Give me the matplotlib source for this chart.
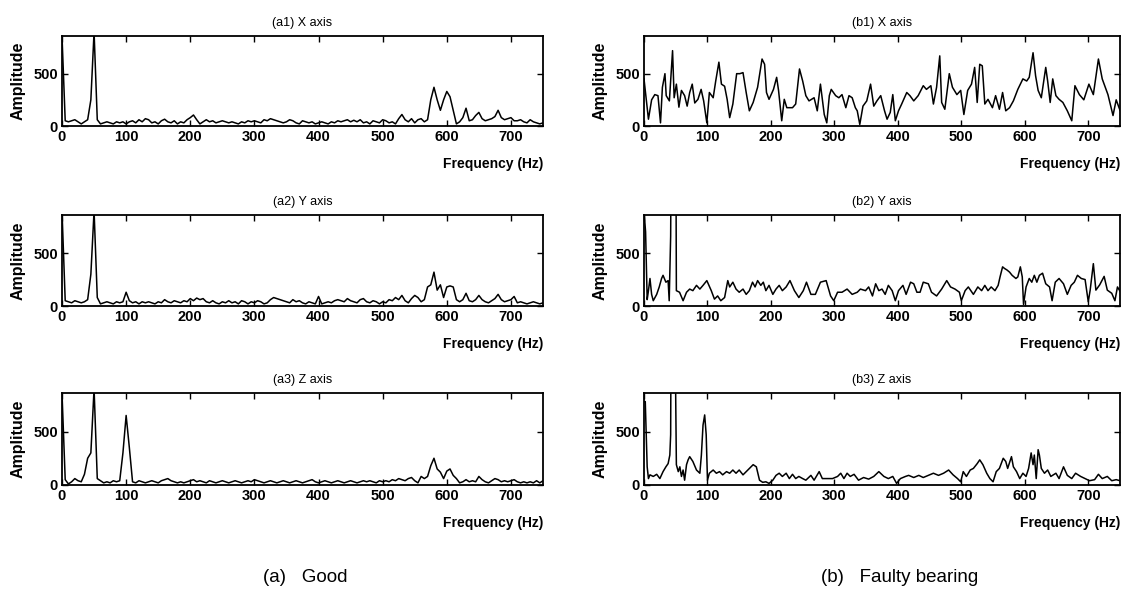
import matplotlib
matplotlib.use("Agg")
import matplotlib.pyplot as plt
from matplotlib import font_manager

names = {f.name for f in font_manager.fontManager.ttflist}
FAM = "Liberation Sans Narrow" if "Liberation Sans Narrow" in names else "Liberation Sans"
plt.rcParams['font.family'] = [FAM, 'DejaVu Sans']

# ---------------- data ----------------
grid5 = list(range(0, 755, 5))

a1_amp = [860, 50, 40, 50, 60, 40, 20, 40, 60, 250,
          900, 60, 20, 30, 40, 30, 20, 40, 30, 40,
          20, 40, 50, 30, 60, 40, 70, 60, 30, 40,
          20, 50, 65, 40, 30, 50, 20, 40, 30, 60,
          80, 105, 60, 20, 40, 60, 40, 50, 30, 40,
          50, 40, 30, 40, 30, 20, 40, 30, 50, 40,
          50, 40, 30, 60, 50, 70, 60, 50, 40, 30,
          40, 60, 50, 30, 20, 50, 40, 30, 40, 20,
          30, 40, 30, 20, 40, 30, 50, 40, 50, 60,
          40, 55, 40, 60, 30, 40, 20, 50, 40, 30,
          60, 50, 30, 40, 20, 70, 110, 60, 40, 70,
          30, 60, 70, 40, 60, 250, 370, 250, 150, 250,
          330, 280, 150, 20, 40, 80, 170, 50, 60, 100,
          130, 70, 50, 60, 70, 90, 150, 80, 60, 70,
          80, 50, 50, 60, 40, 30, 60, 40, 30, 20,
          30]

a2_amp = [900, 50, 40, 30, 50, 40, 30, 40, 60, 300,
          900, 80, 20, 30, 40, 30, 20, 40, 30, 40,
          130, 50, 30, 40, 20, 40, 30, 40, 30, 20,
          40, 30, 60, 40, 30, 50, 40, 30, 50, 40,
          70, 50, 75, 60, 70, 40, 30, 50, 30, 20,
          40, 30, 50, 30, 40, 20, 50, 40, 20, 40,
          30, 50, 40, 20, 30, 60, 80, 70, 60, 50,
          40, 30, 60, 40, 50, 30, 20, 40, 30, 20,
          90, 20, 30, 40, 30, 50, 60, 50, 40, 70,
          50, 40, 30, 60, 70, 40, 30, 50, 40, 20,
          40, 30, 60, 50, 80, 60, 100, 50, 30, 70,
          100, 80, 40, 60, 180, 200, 320, 150, 200, 80,
          180, 190, 180, 60, 40, 60, 120, 50, 40, 60,
          100, 60, 40, 30, 50, 70, 110, 60, 40, 50,
          60, 90, 30, 40, 30, 20, 30, 40, 30, 20,
          30]

a3_amp = [860, 50, 10, 30, 60, 40, 30, 100, 250, 300,
          900, 60, 40, 20, 30, 20, 40, 30, 40, 300,
          650, 350, 30, 20, 40, 30, 20, 30, 40, 30,
          20, 40, 50, 60, 40, 30, 20, 30, 20, 30,
          40, 50, 30, 40, 30, 20, 40, 30, 20, 30,
          40, 30, 20, 30, 40, 30, 20, 30, 40, 30,
          50, 40, 30, 20, 30, 40, 30, 20, 30, 40,
          30, 20, 30, 40, 30, 20, 30, 40, 50, 30,
          20, 30, 40, 30, 20, 30, 40, 30, 20, 30,
          40, 30, 20, 30, 40, 30, 40, 30, 20, 40,
          30, 40, 30, 50, 40, 60, 50, 40, 60, 70,
          40, 20, 80, 60, 80, 180, 250, 150, 120, 60,
          130, 150, 90, 60, 20, 30, 50, 30, 40, 30,
          80, 50, 30, 20, 40, 60, 50, 30, 40, 30,
          40, 50, 30, 20, 30, 20, 30, 20, 40, 20,
          40]

b1_freq = [0, 7, 12, 17, 22, 26, 29, 33, 35, 40, 45, 47.5, 51, 55, 59, 64, 68, 72, 76, 80,
           85, 90, 94, 99, 103, 109, 113, 118, 122, 127, 131, 135, 140, 146, 151, 156, 161, 166, 172, 179,
           186, 190, 193, 197, 204, 209, 212, 217, 221, 225, 234, 239, 245, 250, 255, 260, 268, 273, 278, 284,
           288, 292, 295, 302, 307, 312, 318, 323, 328, 333, 336, 340, 345, 351, 357, 362, 367, 373, 379, 383,
           388, 392, 396, 401, 406, 414, 419, 425, 432, 440, 445, 452, 456, 461, 466, 469, 474, 481, 486, 493,
           499, 504, 510, 516, 521, 525, 529, 533, 537, 542, 549, 554, 560, 565, 570, 576, 582, 589, 597, 603,
           607, 613, 617, 621, 626, 633, 636, 640, 644, 649, 654, 660, 667, 674, 679, 686, 693, 701, 708, 716,
           722, 731, 739, 744, 750]
b1_amp = [450, 65, 250, 300, 290, 30, 370, 500, 290, 240, 720, 270, 400, 180, 340, 290, 190, 320, 400, 220,
          255, 350, 240, 30, 320, 270, 430, 610, 400, 380, 255, 80, 210, 500, 500, 510, 320, 145, 225, 370,
          640, 590, 320, 255, 350, 465, 340, 50, 255, 175, 175, 210, 545, 430, 290, 240, 270, 145, 400, 110,
          30, 290, 350, 290, 270, 300, 175, 290, 270, 175, 145, 15, 190, 240, 400, 190, 240, 290, 145, 65,
          130, 300, 50, 145, 210, 320, 290, 240, 290, 385, 350, 385, 210, 370, 670, 225, 160, 500, 370, 300,
          340, 110, 340, 400, 560, 225, 590, 575, 210, 255, 175, 290, 160, 320, 145, 175, 240, 350, 450, 430,
          465, 700, 480, 340, 270, 560, 430, 225, 450, 290, 255, 225, 145, 50, 385, 300, 250, 400, 300, 640,
          450, 300, 100, 250, 150]

b2_freq = [0, 2.5, 5, 7, 9.4, 12, 14.6, 20, 24, 27.7, 30, 34.5, 38, 39.7, 42, 43.3, 50, 51, 56, 61.6,
           67, 72, 77, 82.7, 88, 93, 99, 106, 111, 116, 121, 127, 132, 135, 140, 145, 150, 156, 161, 166,
           171, 175, 179, 184, 188, 192, 197, 203, 208, 213, 218, 224, 230, 237, 244, 251, 256, 263, 270, 278,
           287, 294, 299, 305, 312, 320, 328, 336, 341, 349, 354, 360, 365, 370, 375, 380, 385, 391, 396, 401,
           408, 413, 420, 425, 430, 435, 440, 448, 453, 461, 469, 477, 483, 490, 497, 500, 506, 511, 519, 526,
           532, 537, 542, 547, 553, 558, 561, 565, 568, 572, 576, 580, 586, 589, 593, 596, 598, 602, 607, 611,
           615, 619, 623, 628, 633, 639, 643, 648, 654, 661, 667, 673, 678, 683, 689, 695, 700, 703, 708, 712,
           718, 725, 730, 737, 742, 746, 750]
b2_amp = [900, 700, 60, 145, 260, 110, 50, 110, 180, 260, 290, 225, 240, 50, 660, 2000, 2000, 145, 130, 50,
          130, 160, 145, 195, 160, 195, 240, 145, 65, 95, 50, 80, 240, 180, 225, 160, 130, 160, 110, 145,
          225, 180, 240, 195, 225, 145, 195, 110, 160, 195, 145, 180, 240, 145, 80, 145, 225, 110, 110, 225,
          240, 95, 50, 130, 130, 160, 110, 130, 160, 145, 180, 95, 210, 145, 160, 110, 195, 145, 50, 145,
          195, 110, 225, 210, 130, 130, 225, 210, 130, 95, 160, 240, 180, 160, 130, 50, 145, 180, 110, 180,
          145, 195, 145, 180, 145, 195, 275, 370, 355, 340, 320, 290, 260, 275, 370, 275, 15, 180, 260, 225,
          290, 225, 290, 310, 210, 180, 50, 225, 260, 210, 110, 195, 225, 290, 260, 250, 40, 150, 400, 150,
          200, 280, 150, 120, 50, 180, 140]

b3_freq = [0, 2, 5, 7, 9.4, 14.6, 20, 25, 30, 34.5, 38, 40.7, 42, 43, 48, 51, 54, 56.5, 59, 61.6,
           64, 67, 69.5, 72, 77, 82.7, 88, 90.4, 93, 95.6, 98, 100, 103, 109, 114, 119, 124, 130, 135, 140,
           145, 150, 156, 161, 166, 172, 177, 182, 187, 192, 197, 203, 208, 213, 218, 224, 229, 234, 239, 244,
           250, 255, 263, 268, 276, 281, 289, 297, 305, 310, 315, 320, 325, 331, 338, 346, 354, 362, 370, 378,
           385, 392, 398, 404, 412, 417, 425, 433, 440, 448, 456, 464, 472, 480, 487, 494, 499, 503, 508, 514,
           519, 525, 529, 534, 540, 545, 550, 555, 560, 566, 570, 573, 579, 582, 587, 592, 597, 602, 606, 610,
           613, 615, 618, 621, 623, 626, 631, 636, 641, 649, 654, 661, 667, 674, 680, 688, 695, 702, 710, 716,
           722, 730, 737, 744, 750]
b3_amp = [780, 780, 170, 60, 95, 80, 100, 60, 125, 170, 200, 280, 470, 2000, 2000, 190, 125, 170, 80, 140,
          45, 190, 235, 265, 220, 140, 110, 280, 560, 655, 470, 45, 110, 140, 110, 125, 95, 125, 110, 140,
          110, 140, 95, 125, 155, 190, 170, 45, 25, 30, 15, 45, 90, 110, 80, 110, 60, 100, 60, 80,
          60, 45, 90, 45, 125, 60, 60, 60, 80, 110, 60, 110, 80, 100, 45, 70, 55, 80, 125, 80,
          60, 80, 15, 60, 80, 90, 70, 90, 70, 90, 110, 90, 110, 140, 95, 60, 30, 125, 80, 140,
          155, 200, 235, 190, 110, 60, 30, 125, 155, 250, 220, 155, 265, 170, 125, 60, 110, 80, 155, 300,
          190, 280, 60, 330, 280, 155, 110, 140, 80, 110, 60, 170, 90, 60, 110, 80, 60, 40, 50, 100,
          60, 80, 40, 50, 40]

titles_a = ["(a1) X axis", "(a2) Y axis", "(a3) Z axis"]
titles_b = ["(b1) X axis", "(b2) Y axis", "(b3) Z axis"]
captions = ["(a)   Good", "(b)   Faulty bearing"]
xticks = [0, 100, 200, 300, 400, 500, 600, 700]
yticks = [0, 500]

series = [
    (grid5, a1_amp, titles_a[0], 0, 0),
    (grid5, a2_amp, titles_a[1], 1, 0),
    (grid5, a3_amp, titles_a[2], 2, 0),
    (b1_freq, b1_amp, titles_b[0], 0, 1),
    (b2_freq, b2_amp, titles_b[1], 1, 1),
    (b3_freq, b3_amp, titles_b[2], 2, 1),
]

W, H = 1125, 591
fig = plt.figure(figsize=(W / 100, H / 100), dpi=100)
fig.patch.set_facecolor("white")

col_px = [(62, 481), (644, 476)]
row_px = [(36, 126), (215, 306), (393, 485)]

for f, a, title, r, c in series:
    assert len(f) == len(a), (title, len(f), len(a))
    x0, w = col_px[c]
    top, bot = row_px[r]
    ax = fig.add_axes([x0 / W, 1 - bot / H, w / W, (bot - top) / H])
    ax.plot(f, a, color="black", lw=1.1)
    ax.set_xlim(0, 750)
    ax.set_ylim(0, 860)
    ax.set_xticks(xticks)
    ax.set_yticks(yticks)
    ax.tick_params(direction="in", top=True, right=True, length=4, width=1,
                   labelsize=10.5, pad=3)
    for lab in ax.get_xticklabels() + ax.get_yticklabels():
        lab.set_fontweight("bold")
    for sp in ax.spines.values():
        sp.set_linewidth(1.3)
    ax.set_title(title, fontsize=9, pad=7)
    hpx = bot - top
    ax.text(1.0, -38 / hpx, "Frequency (Hz)", transform=ax.transAxes,
            ha="right", va="center", fontsize=10, fontweight="bold")
    ax.text(-44 / w, 0.5, "Amplitude", transform=ax.transAxes, rotation=90,
            ha="center", va="center", fontsize=11.5, fontweight="bold")

fig.text(305 / W, 1 - 577 / H, captions[0], ha="center", va="center", fontsize=13.5,
         family=["Liberation Sans", "DejaVu Sans"])
fig.text(900 / W, 1 - 577 / H, captions[1], ha="center", va="center", fontsize=13.5,
         family=["Liberation Sans", "DejaVu Sans"])

fig.savefig("out.png", dpi=100, facecolor="white")
